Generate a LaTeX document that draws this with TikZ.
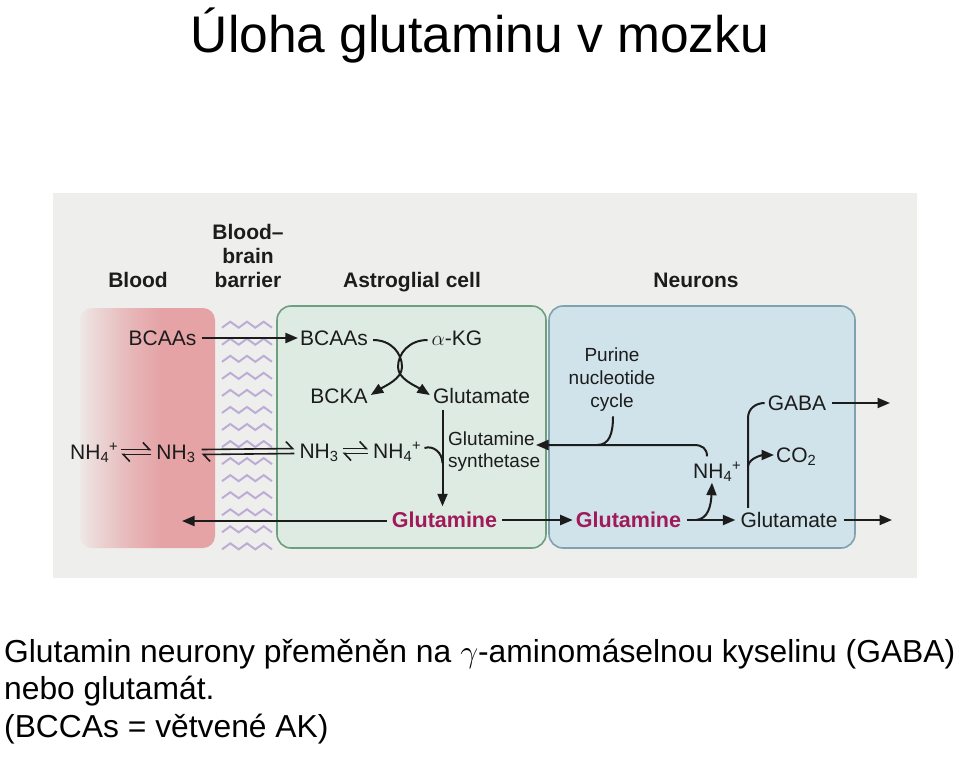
\RequirePackage{fix-cm}
\documentclass[tikz,border=0pt]{standalone}
\usepackage{fontspec}
\setmainfont{Liberation Sans}
\usetikzlibrary{arrows.meta,calc}
\definecolor{panel}{HTML}{EEEEEC}
\definecolor{bloodred}{HTML}{E5A3A6}
\definecolor{astrofill}{HTML}{DDEBE2}
\definecolor{astroline}{HTML}{6E9E80}
\definecolor{neurfill}{HTML}{D0E2EA}
\definecolor{neurline}{HTML}{7FA3AE}
\definecolor{zig}{HTML}{BCADD6}
\definecolor{glnmag}{HTML}{A01A5A}
\definecolor{ink}{HTML}{1C1C1C}
\pgfdeclarehorizontalshading{bloodsh}{100bp}{color(0bp)=(bloodred!8!panel); color(25bp)=(bloodred!8!panel); color(32bp)=(bloodred!35!panel); color(44bp)=(bloodred!75!panel); color(55bp)=(bloodred); color(75bp)=(bloodred); color(100bp)=(bloodred)}
\begin{document}
\begin{tikzpicture}[x=1pt,y=-1pt,
  lbl/.style={font=\fontsize{21}{24}\selectfont, inner sep=0pt, text height=15pt, text depth=0pt, text=ink},
  hdr/.style={font=\fontsize{21}{24.2}\selectfont\bfseries, inner sep=0pt, align=center, text=ink},
  hdrone/.style={font=\fontsize{21}{24}\selectfont\bfseries, inner sep=0pt, text height=15pt, text depth=0pt, text=ink},
  two/.style={font=\fontsize{19}{22.8}\selectfont, inner sep=0pt, text=ink},
  gln/.style={font=\fontsize{21.5}{24}\selectfont\bfseries, inner sep=0pt, text height=15pt, text depth=0pt, text=glnmag},
  arr/.style={ink, line width=2pt, -{Triangle[length=12.5pt,width=10pt]}},
  ln/.style={ink, line width=2pt},
  harp/.style={ink, line width=1.6pt, -{Straight Barb[harpoon,length=6.5pt,width=14pt]}},
  zz/.style={zig, line width=2pt, line join=miter},
]
\useasboundingbox (0,0) rectangle (960,756);
\fill[white] (0,0) rectangle (960,756);
% panel
\fill[panel] (53,193) rectangle (917,578);
% blood
\shade[shading=bloodsh, rounded corners=12pt] (80,308) rectangle (215,548);
% barrier zigzags
\foreach \i in {0,...,13}{
  \pgfmathsetmacro\yy{321.7+\i*17.05}
  \pgfmathsetmacro\yv{\yy+6}
  \draw[zz] (222,\yv) -- (230.3,\yy) -- (238.7,\yv) -- (247,\yy) -- (255.3,\yv) -- (263.7,\yy) -- (272,\yv);
}
% cells
\draw[astroline, fill=astrofill, line width=1.6pt, rounded corners=14pt] (277,306) rectangle (546,548);
\draw[neurline, fill=neurfill, line width=1.6pt, rounded corners=14pt] (549,306) rectangle (855,548);

% headers
\node[hdrone] (hblood) at (138,280) {Blood};
\node[hdr] (hbbb) at (248,256) {Blood–\\brain\\barrier};
\node[hdrone] (hastro) at (412,280) {Astroglial cell};
\node[hdrone] (hneur) at (696,280) {Neurons};

% labels
\node[lbl] (bcaaB) at (162.5,338) {BCAAs};
\node[lbl] (bcaaA) at (334,338) {BCAAs};
\node[lbl] (akg) at (457,338) {$\alpha$-KG};
\node[lbl] (bcka) at (339,396) {BCKA};
\node[lbl] (gluA) at (481.5,396) {Glutamate};
\node[lbl,anchor=west] (nh4B) at (70,452) {NH\textsubscript{4}\textsuperscript{+}};
\node[lbl] (nh3B) at (176,452) {NH\textsubscript{3}};
\node[lbl] (nh3A) at (319,451) {NH\textsubscript{3}};
\node[lbl,anchor=west] (nh4A) at (373,451) {NH\textsubscript{4}\textsuperscript{+}};
\node[two,align=left,anchor=west] (synth) at (448,451.5) {Glutamine\\synthetase};
\node[gln] (glnA) at (444.5,520) {Glutamine};
\node[gln] (glnN) at (628.5,520) {Glutamine};
\node[lbl] (gluN) at (789,520) {Glutamate};
\node[lbl,anchor=west] (nh4N) at (693,471) {NH\textsubscript{4}\textsuperscript{+}};
\node[lbl] (gaba) at (797,403) {GABA};
\node[lbl,anchor=west] (co2) at (776,455) {CO\textsubscript{2}};
\node[two,align=center] (purine) at (612,379.5) {Purine\\nucleotide\\cycle};

% coordinates for free ends
\coordinate (bloodend) at (182,521);
\coordinate (hk) at (442.5,463);
\coordinate (synthtip) at (536,445);
\coordinate (hc) at (694,445);
\coordinate (pj) at (597,445);
\coordinate (j1) at (696,520);
\coordinate (gluOut) at (892,520);
\coordinate (gabaOut) at (890,403);

% BCAAs transport
\draw[arr] ($(bcaaB.east)+(5,0)$) -- ($(bcaaA.west)+(-2,0)$);
% transamination
\draw[arr] ($(bcaaA.east)+(5,2)$) .. controls +(18,0) and +(0,-14) .. (402,367) .. controls +(0,12) and +(14,-9) .. ($(bcka.east)+(3,-1)$);
\draw[arr] ($(akg.west)+(-4,2)$) .. controls +(-18,0) and +(0,-14) .. (398,367) .. controls +(0,12) and +(-14,-9) .. ($(gluA.west)+(-3,-1)$);
% glutamine synthetase
\draw[arr] ($(gluA.south -| glnA.north)+(-2,6)$) -- ($(glnA.north)+(-2,-6)$);
\draw[ln] ($(nh4A.east)+(3,-3)$) .. controls +(9,-3) and +(0,-10) .. (hk);
% equilibria
\draw[harp] ($(nh4B.east)+(3,-2.5)$) -- ($(nh3B.west)+(-5,-2.5)$);
\draw[harp] ($(nh3B.west)+(-5,2.5)$) -- ($(nh4B.east)+(3,2.5)$);
\draw[harp] ($(nh3B.east)+(6,-2.5)$) -- ($(nh3A.west)+(-5,-2.5)$);
\draw[harp] ($(nh3A.west)+(-5,2.5)$) -- ($(nh3B.east)+(6,2.5)$);
\draw[harp] ($(nh3A.east)+(4,-2.5)$) -- ($(nh4A.west)+(-5,-2.5)$);
\draw[harp] ($(nh4A.west)+(-5,2.5)$) -- ($(nh3A.east)+(4,2.5)$);
% glutamine flows
\draw[arr] ($(glnA.west)+(-5,1)$) -- (bloodend);
\draw[arr] ($(glnA.east)+(5,0)$) -- ($(glnN.west)+(-3,0)$);
\draw[arr] ($(glnN.east)+(6,0)$) -- ($(gluN.west)+(-5,0)$);
\draw[arr] (j1) .. controls (708,519) and (711,506) .. ($(nh4N.south west)+(19,4)$);
\draw[arr] ($(gluN.east)+(6,0)$) -- (gluOut);
% GABA and CO2
\draw[ln] ($(gluN.north)+(-41,-4.5)$) -- ++(0,-90) .. controls +(0,-9) and +(-9,0) .. ($(gaba.west)+(-3,0)$);
\draw[arr] ($(gaba.east)+(6,0)$) -- (gabaOut);
\draw[arr] ($(gluN.north)+(-41,-46)$) .. controls +(1,-9) and +(-10,0) .. ($(co2.west)+(-2,0)$);
% NH4+ back to astroglia
\draw[arr] ($(nh4N.north west)+(14,-7)$) .. controls +(0,-8) and +(8,0) .. (hc) -- (synthtip);
\draw[ln] ($(purine.south)+(1,5)$) .. controls +(0,18) and +(12,0) .. (pj);

% title and caption
\node[font=\fontsize{51.5}{60}\selectfont, anchor=base, inner sep=0pt] (title) at (480,52) {Úloha glutaminu v mozku};
\node[font=\fontsize{31.8}{37}\selectfont, anchor=base west, inner sep=0pt] (t1) at (4,662) {Glutamin neurony přeměněn na $\gamma$-aminomáselnou kyselinu (GABA)};
\node[font=\fontsize{31.8}{37}\selectfont, anchor=base west, inner sep=0pt] (t2) at (4,699) {nebo glutamát.};
\node[font=\fontsize{31.8}{37}\selectfont, anchor=base west, inner sep=0pt] (t3) at (4,737) {(BCCAs = větvené AK)};
\end{tikzpicture}
\end{document}
